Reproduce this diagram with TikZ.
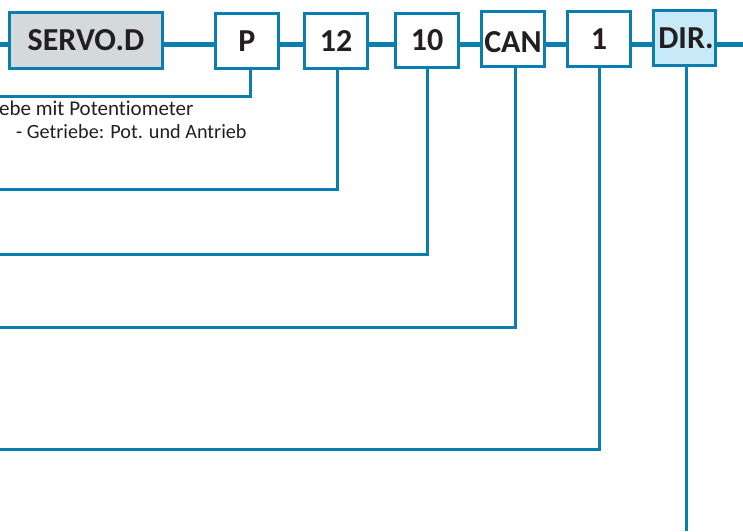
\documentclass[tikz,border=0pt]{standalone}
\usepackage{fontspec}
\setmainfont{Carlito}[Ligatures={TeX,NoCommon}]
\definecolor{lineblue}{HTML}{0A7EAE}
\definecolor{servogrey}{HTML}{D4D9DC}
\definecolor{dirblue}{HTML}{C8E9F8}
\definecolor{txt}{HTML}{231F20}
\tikzset{
  codebox/.style={draw=lineblue, line width=3pt, fill=white, inner sep=0pt,
    text=txt, font=\bfseries\fontsize{32}{32}\selectfont,
    text height=20pt, text depth=0pt},
  mainline/.style={draw=lineblue, line width=5pt},
  drop/.style={draw=lineblue, line width=3pt},
  desc/.style={text=txt, font=\fontsize{21}{24}\selectfont, inner sep=0pt, anchor=base west}
}
\begin{document}
\begin{tikzpicture}[x=1pt,y=-1pt]
\useasboundingbox (0,0) rectangle (743,531);
% boxes
\node[codebox, fill=servogrey, minimum width=153pt, minimum height=56pt] (servo) at (86,40.5) {SERVO.D};
\node[codebox, minimum width=63pt, minimum height=55pt] (p) at (247,41) {P};
\node[codebox, minimum width=63pt, minimum height=55pt] (n12) at (336,41) {12};
\node[codebox, minimum width=63pt, minimum height=54pt] (n10) at (427,40.5) {10};
\node[codebox, minimum width=63pt, minimum height=55pt, text height=26pt] (can) at (513,39) {CAN};
\node[codebox, minimum width=63pt, minimum height=55pt] (n1) at (599,39) {1};
\node[codebox, fill=dirblue, minimum width=62pt, minimum height=55pt] (dir) at (684.5,38) {\hspace{3pt}DIR.};
% main line
\coordinate (L) at (0,44);
\coordinate (R) at (743,44);
\draw[mainline] (L) -- (L -| servo.west);
\draw[mainline] (servo.east |- L) -- (p.west |- L);
\draw[mainline] (p.east |- L) -- (n12.west |- L);
\draw[mainline] (n12.east |- L) -- (n10.west |- L);
\draw[mainline] (n10.east |- L) -- (can.west |- L);
\draw[mainline] (can.east |- L) -- (n1.west |- L);
\draw[mainline] (n1.east |- L) -- (dir.west |- L);
\draw[mainline] (dir.east |- L) -- (R);
% drop lines
\coordinate (tp) at (0,96);
\coordinate (t12) at (0,189);
\coordinate (t10) at (0,254);
\coordinate (tcan) at (0,327);
\coordinate (t1) at (0,449);
\coordinate (tdir) at (0,531);
\draw[drop] ([xshift=3pt]p.south) |- (tp);
\draw[drop] ([xshift=1pt]n12.south) |- (t12);
\draw[drop] ([xshift=0.5pt]n10.south) |- (t10);
\draw[drop] ([xshift=2pt]can.south) |- (tcan);
\draw[drop] (n1.south) |- (t1);
\draw[drop] ([xshift=2pt]dir.south) -- ([xshift=2pt]dir.south |- tdir);
% descriptions
\node[desc] (d1) at (-1,115) {ebe mit Potentiometer};
\node[desc, font=\fontsize{20.2}{24}\selectfont] (d2) at (16,138) {-\ Getriebe: Pot. und Antrieb};
\end{tikzpicture}
\end{document}
